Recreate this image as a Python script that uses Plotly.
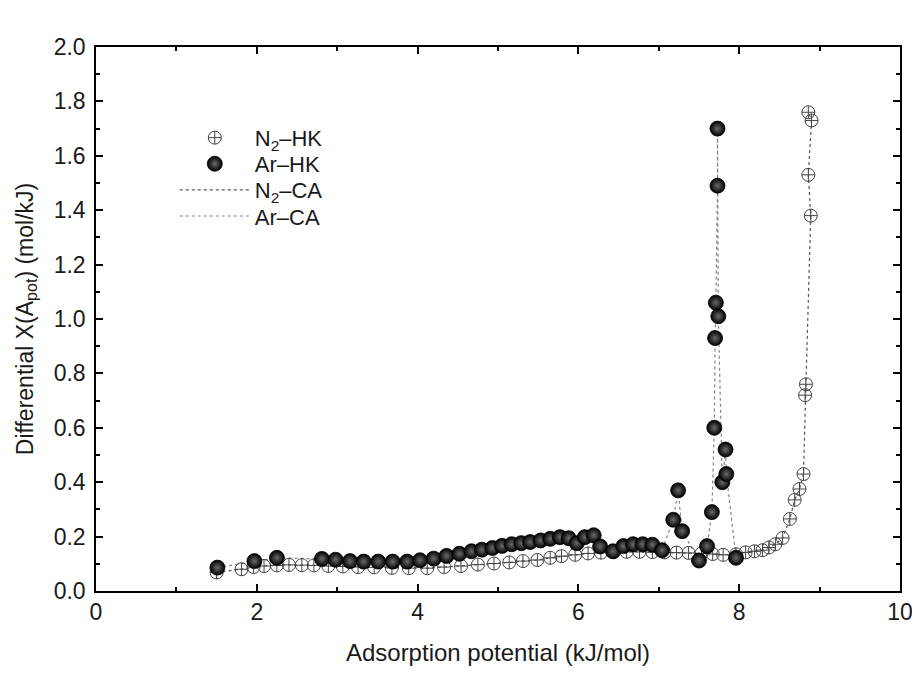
import plotly.graph_objects as go

# N2 data (adsorption potential kJ/mol, differential X)
n2_x = [1.50, 1.81, 1.96, 2.09, 2.25, 2.40, 2.56, 2.71, 2.89, 3.07, 3.26, 3.46, 3.68, 3.89,
        4.12, 4.33, 4.54, 4.75, 4.95, 5.14, 5.31, 5.49, 5.65, 5.79, 5.96, 6.12, 6.28, 6.44,
        6.60, 6.76, 6.92, 7.07, 7.22, 7.37, 7.53, 7.67, 7.80, 7.96, 8.08, 8.19, 8.29, 8.37,
        8.45, 8.54, 8.63, 8.69, 8.75, 8.80, 8.82, 8.83, 8.89, 8.86, 8.90, 8.86]
n2_y = [0.068, 0.080, 0.088, 0.092, 0.094, 0.096, 0.095, 0.094, 0.092, 0.090, 0.088, 0.087,
        0.085, 0.084, 0.084, 0.088, 0.092, 0.097, 0.101, 0.105, 0.110, 0.114, 0.122, 0.128,
        0.133, 0.138, 0.141, 0.143, 0.144, 0.144, 0.143, 0.142, 0.141, 0.140, 0.138, 0.136,
        0.133, 0.135, 0.142, 0.146, 0.150, 0.160, 0.172, 0.195, 0.265, 0.335, 0.375, 0.43,
        0.72, 0.76, 1.38, 1.53, 1.73, 1.76]

# Ar data
ar_x = [1.51, 1.97, 2.25, 2.81, 2.98, 3.16, 3.33, 3.51, 3.69, 3.87, 4.03, 4.20, 4.36, 4.52,
        4.67, 4.80, 4.93, 5.05, 5.17, 5.29, 5.40, 5.53, 5.65, 5.77, 5.88, 5.98, 6.08, 6.19,
        6.27, 6.43, 6.56, 6.68, 6.80, 6.92, 7.04, 7.18, 7.24, 7.29, 7.50, 7.60, 7.66, 7.69,
        7.70, 7.71, 7.73, 7.73, 7.74, 7.79, 7.83, 7.84, 7.96]
ar_y = [0.086, 0.110, 0.122, 0.118, 0.115, 0.110, 0.108, 0.108, 0.108, 0.108, 0.113, 0.119,
        0.129, 0.137, 0.146, 0.152, 0.158, 0.166, 0.172, 0.176, 0.180, 0.186, 0.192, 0.198,
        0.194, 0.176, 0.198, 0.205, 0.164, 0.146, 0.165, 0.172, 0.172, 0.170, 0.150, 0.262,
        0.37, 0.22, 0.112, 0.165, 0.29, 0.60, 0.93, 1.06, 1.49, 1.70, 1.01, 0.40, 0.52,
        0.43, 0.122]

FONT = "Liberation Sans, Arial, sans-serif"
TXT = "#1a1a1a"

fig = go.Figure()

# CA lines (drawn under markers)
fig.add_trace(go.Scatter(x=n2_x, y=n2_y, mode="lines", name="N<sub>2</sub>\u2013CA",
                         line=dict(color="#555555", width=1.2, dash="dot"), legend="legend3"))
fig.add_trace(go.Scatter(x=ar_x, y=ar_y, mode="lines", name="Ar\u2013CA",
                         line=dict(color="#858585", width=1.2, dash="dot"), legend="legend4"))

fig.add_trace(go.Scatter(x=n2_x, y=n2_y, mode="markers", name="N<sub>2</sub>\u2013HK",
                         marker=dict(symbol="circle-cross-open", size=13, color="#444444",
                                     line=dict(width=1)), legend="legend"))
fig.add_trace(go.Scatter(x=ar_x, y=ar_y, mode="markers", name="Ar\u2013HK",
                         marker=dict(symbol="circle", size=15, color="#000000",
                                     gradient=dict(type="radial", color="#6a6a6a"),
                                     line=dict(width=0.8, color="#000000")), legend="legend2"))

axis_common = dict(showline=True, linecolor="black", linewidth=1.5, mirror="ticks",
                   ticks="inside", ticklen=7, tickwidth=1.5, tickcolor="black",
                   showgrid=False, zeroline=False, automargin=False,
                   ticklabeloverflow="allow",
                   tickfont=dict(family=FONT, size=23, color=TXT))

fig.update_xaxes(range=[0, 10], dtick=2, tick0=0,
                 minor=dict(dtick=1, ticks="inside", ticklen=4, tickcolor="black"),
                 title=dict(text="Adsorption potential (kJ/mol)",
                            font=dict(family=FONT, size=24, color=TXT), standoff=24),
                 **axis_common)
fig.update_yaxes(range=[0, 2.0], dtick=0.2, tick0=0, tickformat=".1f",
                 ticklabelstandoff=4,
                 minor=dict(dtick=0.1, ticks="inside", ticklen=4, tickcolor="black"),
                 title=dict(text="Differential X(A<sub>pot</sub>) (mol/kJ)",
                            font=dict(family=FONT, size=23, color=TXT), standoff=14),
                 **axis_common)

leg = dict(xanchor="left", yanchor="middle", x=0.098, bgcolor="rgba(0,0,0,0)",
           font=dict(family=FONT, size=22, color=TXT), itemwidth=70)

fig.update_layout(
    width=904, height=658,
    margin=dict(l=88, r=12, t=39, b=75),
    paper_bgcolor="white", plot_bgcolor="white",
    font=dict(family=FONT, color=TXT),
    showlegend=True,
    legend=dict(leg, y=0.833),
    legend2=dict(leg, y=0.785),
    legend3=dict(leg, y=0.737),
    legend4=dict(leg, y=0.689),
)

fig.write_html("out.html")
